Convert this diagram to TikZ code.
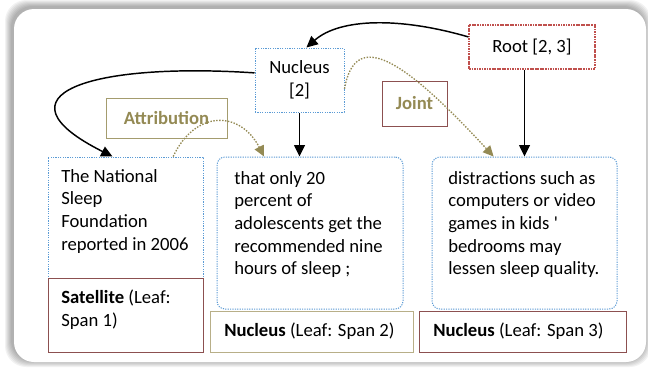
\documentclass[tikz,border=0pt]{standalone}
\usepackage{fontspec}
\setmainfont{Carlito}
\usepackage{tikz}
\usepackage{xcolor}
\usetikzlibrary{shapes.geometric, arrows.meta, positioning, calc}
\definecolor{spanblue}{HTML}{5B9BD5}
\definecolor{rootred}{HTML}{C0504D}
\definecolor{khaki}{HTML}{948A54}
\definecolor{sand}{HTML}{B8AF88}
\definecolor{maroon}{HTML}{8C5050}
\tikzstyle{spanbox} = [rectangle, draw=spanblue, line width=0.75pt,
                       dash pattern=on 0.9pt off 0.9pt, inner sep=0pt]
\tikzstyle{leafbox} = [spanbox, rounded corners=6pt]
\tikzstyle{rootbox} = [spanbox, draw=rootred, line width=0.9pt, dash pattern=on 1.3pt off 0.6pt]
\tikzstyle{labelbox} = [rectangle, draw=maroon, line width=0.75pt]
\tikzstyle{relbox} = [rectangle, draw=khaki!85, line width=0.75pt,
                      text=khaki, font=\fontsize{14}{17}\selectfont\bfseries]
\tikzstyle{txt} = [inner sep=0pt, anchor=north west, align=left]
\tikzstyle{arrow} = [-{Triangle[length=8.5pt, width=8pt]}, line width=1.1pt]
\tikzstyle{relarrow} = [-{Triangle[length=8pt, width=7.5pt]}, khaki,
                        line width=1pt, dash pattern=on 1.1pt off 1.1pt]

\begin{document}
\begin{tikzpicture}[x=0.75pt, y=-0.75pt, font=\fontsize{14}{17}\selectfont]
    \useasboundingbox (0,0) rectangle (648,369);

    % Frame with soft shadow
    \foreach \d in {1,...,7}
        \fill[black, opacity=0.05, rounded corners=16pt]
            ({12-\d},{7-\d}) rectangle ({645+\d-1},{361+\d-1});
    \fill[white, rounded corners=15pt] (14,9) rectangle (646,362);

    % Inner spans
    \node[rootbox, minimum width=94.5pt, minimum height=33pt] (root) at (532,47) {Root [2, 3]};
    \node[spanbox, minimum width=66.75pt, minimum height=48pt, align=center] (nucleus) at (299.5,80) {Nucleus\\{[2]}};

    % Relation labels
    \node[relbox, minimum width=90.75pt, minimum height=30pt] (attr) at (166.5,118) {Attribution};
    \node[relbox, draw=maroon, minimum width=48.75pt, minimum height=33.75pt] (joint) at (414.5,103.5) {Joint};

    % Leaves
    \node[spanbox, minimum width=116.25pt, minimum height=90.75pt] (leafA) at (125.5,217.5) {};
    \node[labelbox, minimum width=116.25pt, minimum height=55.5pt] (labA) at (125.5,315) {};
    \node[leafbox, minimum width=139.5pt, minimum height=114pt] (leafB) at (310,233) {};
    \node[labelbox, draw=sand, minimum width=152.25pt, minimum height=30.75pt] (labB) at (311.5,331.5) {};
    \node[leafbox, minimum width=138.75pt, minimum height=114pt] (leafC) at (524.5,233) {};
    \node[labelbox, minimum width=155.25pt, minimum height=30.75pt] (labC) at (522.5,331.5) {};

    \node[txt] (txtA) at (61,169) {The National\\Sleep\\Foundation\\reported in 2006};
    \node[txt] (txtB) at (234,171) {that only 20\\percent of\\adolescents get the\\recommended nine\\hours of sleep ;};
    \node[txt] (txtC) at (448,171) {distractions such as\\computers or video\\games in kids \textquotesingle\\bedrooms may\\lessen sleep quality.};

    \node[txt] (nameA) at (61,290) {\textbf{Satellite} (Leaf:\\Span 1)};
    \node[txt] (nameB) at (224,323) {\textbf{Nucleus} (Leaf: Span 2)};
    \node[txt] (nameC) at (433,323) {\textbf{Nucleus} (Leaf: Span 3)};

    % Tree edges
    \draw[arrow] (root.171) .. controls (400,17) and (340,18) .. (nucleus.78);
    \draw[arrow] (root.south -| leafC.north) -- (leafC.north);
    \draw[arrow] (nucleus.south) -- (nucleus.south |- leafB.north);
    \draw[arrow] (nucleus.171) .. controls (90,62) and (-10,95) .. (leafA.102);

    % Relations
    \draw[relarrow] (leafA.52) .. controls (195,110) and (240,110) .. (leafB.121);
    \draw[relarrow] (nucleus.-11) .. controls (355,30) and (400,55) .. (leafC.112);
\end{tikzpicture}
\end{document}
